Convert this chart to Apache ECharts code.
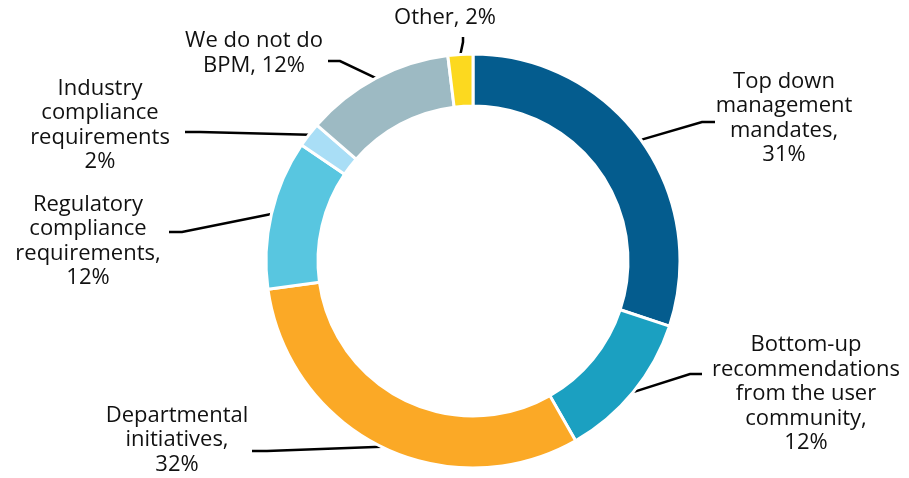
<!DOCTYPE html>
<html>
<head>
<meta charset="utf-8">
<script src="https://cdn.jsdelivr.net/npm/echarts@6/dist/echarts.min.js"></script>
<style>
  html, body { margin: 0; padding: 0; background: #ffffff; }
  #chart { width: 909px; height: 478px; }
</style>
</head>
<body>
<div id="chart"></div>
<script>
// Reasons for starting BPM work, share of respondents (%)
const categories = [
  'Top down\nmanagement\nmandates',
  'Bottom-up\nrecommendations\nfrom the user\ncommunity',
  'Departmental\ninitiatives',
  'Regulatory\ncompliance\nrequirements',
  'Industry\ncompliance\nrequirements',
  'We do not do\nBPM',
  'Other'
];
const values = [31, 12, 32, 12, 2, 12, 2];
// text placed between name and value in each label
const separators = [',\n', ',\n', ',\n', ',\n', '\n', ', ', ', '];

const colors = ['#045c8e', '#1ba0c1', '#fba926', '#58c6e0', '#a9def6', '#9dbac3', '#fcd91f'];

// label block centres and leader-line elbow/end points
const labelPlacement = [
  { x: 784, y: 118, elbow: [702, 122], end: [715, 122] },
  { x: 806, y: 394, elbow: [690, 374], end: [702, 374] },
  { x: 177, y: 440, elbow: [267, 451], end: [252, 451] },
  { x: 88,  y: 241, elbow: [182, 232], end: [169, 232] },
  { x: 100, y: 125, elbow: [200, 132], end: [185, 132] },
  { x: 254, y: 53,  elbow: [340, 61],  end: [328, 61] },
  { x: 445, y: 18,  elbow: [463, 42],  end: [463, 37] }
];

const chart = echarts.init(document.getElementById('chart'), null, { renderer: 'canvas' });

chart.setOption({
  animation: false,
  color: colors,
  series: [{
    type: 'pie',
    center: [473, 261],
    radius: [155, 207],
    startAngle: 90,
    clockwise: true,
    avoidLabelOverlap: false,
    itemStyle: { borderColor: '#ffffff', borderWidth: 3 },
    label: {
      show: true,
      position: 'outside',
      color: '#111111',
      fontFamily: '"Open Sans", "Liberation Sans", sans-serif',
      fontSize: 22,
      lineHeight: 24.5,
      align: 'center',
      formatter: p => p.name + separators[p.dataIndex] + p.value + '%'
    },
    labelLine: {
      show: true,
      length: 20,
      length2: 10,
      smooth: false,
      lineStyle: { color: '#000000', width: 2.5 }
    },
    labelLayout: params => {
      const pl = labelPlacement[params.dataIndex];
      const start = params.labelLinePoints ? params.labelLinePoints[0] : pl.elbow;
      return {
        x: pl.x,
        y: pl.y,
        align: 'center',
        verticalAlign: 'middle',
        labelLinePoints: [start, pl.elbow, pl.end]
      };
    },
    data: categories.map((name, i) => ({ name, value: values[i] }))
  }]
});
</script>
</body>
</html>
